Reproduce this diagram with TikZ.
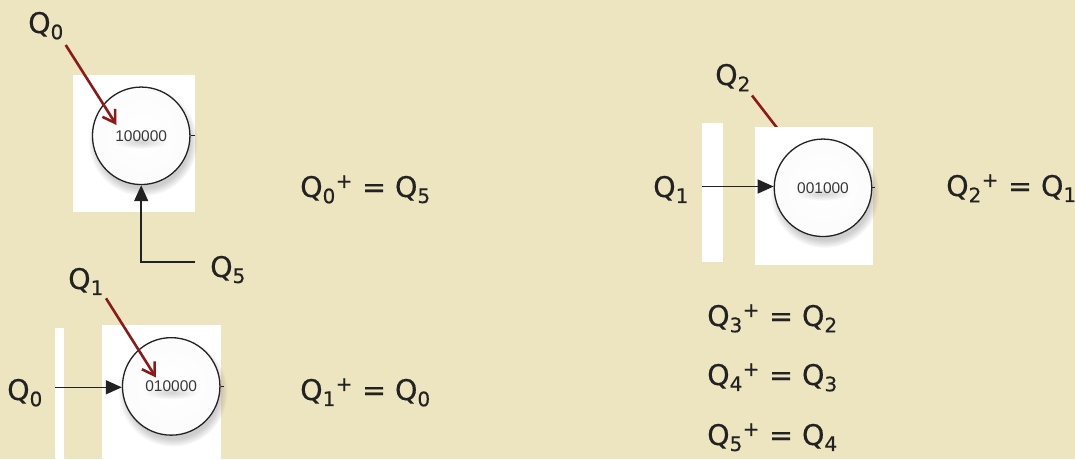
\documentclass[tikz,border=0pt]{standalone}
\usepackage{fontspec}
\setmainfont{DejaVu Sans}[FakeBold=0.3]
\newfontfamily\digitfont{Liberation Sans}
\usetikzlibrary{arrows.meta,shadows,fadings}
\definecolor{bg}{HTML}{EDE4C0}
\definecolor{qred}{HTML}{8B1A1A}
\definecolor{ink}{HTML}{222222}
\newcommand{\Qq}[1]{Q\textsubscript{#1}}
\newcommand{\Qp}[1]{Q\textsubscript{#1}\textsuperscript{+}}
\tikzfading[name=fuzzyel, inner color=transparent!50, outer color=transparent!100]
\tikzfading[name=innerglow, inner color=transparent!100, outer color=transparent!80]
\begin{document}
\begin{tikzpicture}[x=1pt,y=-1pt,
  lbl/.style={font=\fontsize{28.5}{34}\selectfont\addfontfeature{FakeBold=0.4}, text=ink, inner sep=0pt, anchor=base west},
  state/.style={circle, draw=ink, line width=1.3pt, minimum size=97.5pt, fill=white, inner sep=0pt,
    font=\digitfont\fontsize{15.5}{18}\selectfont, text=black!78,
    circular drop shadow={shadow xshift=1.5pt, shadow yshift=-5pt, shadow scale=1.12, opacity=0.38},
    path picture={
      \fill[black, opacity=0.07, path fading=innerglow] (path picture bounding box.center) circle (49pt);
      \fill[black, opacity=0.35, path fading=fuzzyel]
      ([yshift=-6pt]path picture bounding box.center) ellipse (27pt and 7pt);}},
  redarrow/.style={draw=qred, line width=2.6pt, -{Straight Barb[length=12pt,width=15pt]}},
  blackarrow/.style={draw=ink, line width=1.5pt, -{Triangle[length=16pt,width=14pt]}},
  stub/.style={draw=ink, line width=1pt},
]
\fill[bg] (0,0) rectangle (1075,459);
\useasboundingbox (0,0) rectangle (1075,459);

% hidden red line under right box
\coordinate (r3s) at (752,95.5);
\coordinate (r3e) at (800,157.6);
\draw[qred, line width=2.6pt] (r3s) -- (r3e);

% white panels
\fill[white] (73,75) rectangle (195,211.5);
\fill[white] (102,325) rectangle (221,459);
\fill[white] (55,328) rectangle (64,459);
\fill[white] (755,127) rectangle (872.5,265);
\fill[white] (702,123) rectangle (722.5,262);

% states
\node[state] (c0) at (141.2,135.8) {100000};
\node[state] (c1) at (171.2,386.4) {010000};
\node[state] (c2) at (823,187.8) {001000};
\draw[stub] (c0.east) -- ++(4,0);
\draw[stub] (c1.east) -- ++(3,0);
\draw[stub] (c2.east) -- ++(3,0);

% labels
\node[lbl] (l0) at (28,33) {\Qq0};
\node[lbl] (l5) at (210,277) {\Qq5};
\node[lbl] (l1) at (68,289) {\Qq1};
\node[lbl] (l0b) at (7,400) {\Qq0};
\node[lbl] (l2) at (715,85) {\Qq2};
\node[lbl] (l1b) at (653,197) {\Qq1};

% red arrows
\coordinate (r0s) at (65.7,45);
\coordinate (r0e) at (116.5,125);
\draw[redarrow] (r0s) -- (r0e);
\coordinate (r1s) at (106,298.3);
\coordinate (r1e) at (156,377.5);
\draw[redarrow] (r1s) -- (r1e);

% black arrows
\coordinate (q5in) at (195,262);
\draw[blackarrow] (q5in) -| (c0.south);
\coordinate (q0in) at (55,387.3);
\draw[blackarrow] (q0in) -- (c1.west |- q0in);
\coordinate (q1in) at (702,186.5);
\draw[blackarrow] (q1in) -- (c2.west |- q1in);

% equations
\node[lbl] (e0) at (300,197) {\Qp0 = \Qq5};
\node[lbl] (e1) at (300,400) {\Qp1 = \Qq0};
\node[lbl] (e2) at (946,196) {\Qp2 = \Qq1};
\node[lbl] (e3) at (707,326) {\Qp3 = \Qq2};
\node[lbl] (e4) at (707,385) {\Qp4 = \Qq3};
\node[lbl] (e5) at (707,445) {\Qp5 = \Qq4};
\end{tikzpicture}
\end{document}
